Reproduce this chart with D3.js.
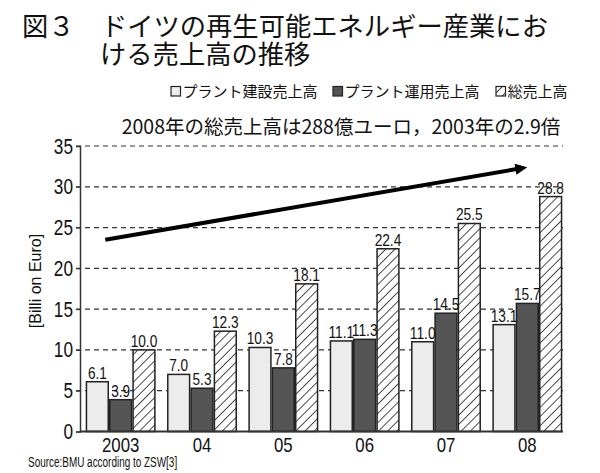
<!DOCTYPE html>
<html><head><meta charset="utf-8">
<script src="https://cdn.jsdelivr.net/npm/d3@7"></script>
<style>
body{margin:0;background:#fff;}
svg{display:block;}
.jp{font-family:"Noto Sans CJK JP","Noto Sans",sans-serif;}
.nar{font-family:"Liberation Sans",Arial,sans-serif;}
</style>
</head><body>
<script>
const categories = ["2003","04","05","06","07","08"];
const construction = [6.1, 7.0, 10.3, 11.1, 11.0, 13.1];
const operation = [3.9, 5.3, 7.8, 11.3, 14.5, 15.7];
const total = [10.0, 12.3, 18.1, 22.4, 25.5, 28.8];
const yTicks = [0,5,10,15,20,25,30,35];
const seriesNames = ["プラント建設売上高","プラント運用売上高","総売上高"];
const arrowFrom = {cat:0, frac:0.28, v:23.5};
const arrowTo = {cat:5, frac:0.5, v:32.4};

(function(){
const W=600,H=473;
const svg=d3.select("body").append("svg").attr("width",W).attr("height",H);
const defs=svg.append("defs");
const pat=defs.append("pattern").attr("id","hatch").attr("patternUnits","userSpaceOnUse")
  .attr("width",6.5).attr("height",6.5).attr("patternTransform","rotate(45)");
pat.append("rect").attr("width",6.5).attr("height",6.5).attr("fill","#fff");
pat.append("line").attr("x1",0).attr("y1",0).attr("x2",0).attr("y2",6.5).attr("stroke","#111").attr("stroke-width",1.5);

// condensed text helper (squeezes glyphs via textLength)
function ntext(parent, x, y, txt, size, sx, anchor, ls){
  const t=parent.append("text").attr("class","nar")
    .attr("x",x).attr("y",y)
    .attr("font-size",size).attr("fill","#111").attr("text-anchor",anchor||"start").text(txt);
  const n=t.node().getComputedTextLength();
  const extra=(ls||0)*(txt.length-1);
  t.attr("textLength",n*sx+extra).attr("lengthAdjust","spacingAndGlyphs");
  return t;
}

const pL=80,pR=563,pT=146,pB=431.5;
const x0=d3.scaleBand().domain(categories).range([pL,568]).paddingInner(0.14).paddingOuter(0.07);
const x1=d3.scaleBand().domain([0,1,2]).range([0,x0.bandwidth()]);
const y=d3.scaleLinear().domain([0,35]).range([pB,pT]);

// grid
svg.append("g").selectAll("line").data(yTicks.filter(d=>d>0)).join("line")
  .attr("x1",pL-4).attr("x2",pR).attr("y1",d=>y(d)).attr("y2",d=>y(d))
  .attr("stroke","#333").attr("stroke-width",1.2).attr("stroke-dasharray","5,4");

// y axis
const yAxis=svg.append("g").attr("transform",`translate(${pL},0)`)
  .call(d3.axisLeft(y).tickValues(yTicks).tickSize(4).tickFormat(""));
yAxis.select(".domain").attr("stroke","#333").attr("stroke-width",1.5);
yAxis.selectAll(".tick line").attr("stroke","#333");
const yl=svg.append("g");
yTicks.forEach(v=>ntext(yl, 73, y(v)+7.5, String(v), 21.5, 0.8, "end"));

// bars
const colors=["#ececec","#555555","url(#hatch)"];
const series=[construction,operation,total];
const g=svg.append("g");
const lg=svg.append("g");
series.forEach((vals,si)=>{
  g.selectAll(".b"+si).data(vals).join("rect").attr("class","b"+si)
    .attr("x",(d,i)=>x0(categories[i])+x1(si)+0.75)
    .attr("width",x1.bandwidth()-1.5)
    .attr("y",d=>y(d)).attr("height",d=>y(0)-y(d))
    .attr("fill",colors[si]).attr("stroke","#222").attr("stroke-width",1.5);
  vals.forEach((d,i)=>{
    ntext(lg, x0(categories[i])+x1(si)+x1.bandwidth()/2, y(d)-3, d.toFixed(1), 16.5, 0.7, "middle", 1.4);
  });
});

// x axis
svg.append("line").attr("x1",pL).attr("x2",pR).attr("y1",pB).attr("y2",pB)
  .attr("stroke","#333").attr("stroke-width",2);
const xl=svg.append("g");
categories.forEach(c=>ntext(xl, x0(c)+x0.bandwidth()/2, 452, c, 21, 0.8, "middle"));

// arrow
const ax1=x0(categories[arrowFrom.cat])+x0.bandwidth()*arrowFrom.frac, ay1=y(arrowFrom.v);
const ax2=x0(categories[arrowTo.cat])+x0.bandwidth()*arrowTo.frac, ay2=y(arrowTo.v);
const ang=Math.atan2(ay2-ay1,ax2-ax1);
svg.append("line").attr("x1",ax1).attr("y1",ay1)
  .attr("x2",ax2-8*Math.cos(ang)).attr("y2",ay2-8*Math.sin(ang))
  .attr("stroke","#000").attr("stroke-width",4);
const hl=12,hw=5.5;
const pts=[[ax2,ay2],
 [ax2-hl*Math.cos(ang)+hw*Math.sin(ang), ay2-hl*Math.sin(ang)-hw*Math.cos(ang)],
 [ax2-hl*Math.cos(ang)-hw*Math.sin(ang), ay2-hl*Math.sin(ang)+hw*Math.cos(ang)]];
svg.append("polygon").attr("points",pts.map(p=>p.join(",")).join(" ")).attr("fill","#000");

// y label
svg.append("text").attr("class","nar").attr("transform","translate(41,281) rotate(-90)")
  .attr("text-anchor","middle").attr("font-size",16).attr("fill","#111").text("[Billi on Euro]");

// title
const t=svg.append("text").attr("class","jp").attr("font-size",26.3).attr("fill","#111");
t.append("tspan").attr("x",22).attr("y",36).text("図３　ドイツの再生可能エネルギー産業にお");
t.append("tspan").attr("x",100).attr("y",64).text("ける売上高の推移");

// legend
const legX=[171,333,496];
legX.forEach((lx,i)=>{
  svg.append("rect").attr("x",lx).attr("y",86.5).attr("width",9.5).attr("height",9.5)
    .attr("fill",colors[i]).attr("stroke","#222").attr("stroke-width",1.2);
  svg.append("text").attr("class","jp").attr("x",lx+11.5).attr("y",97)
    .attr("font-size",15).attr("fill","#111").text(seriesNames[i]);
});

// subtitle
svg.append("text").attr("class","jp").attr("x",341).attr("y",134).attr("text-anchor","middle")
  .attr("font-size",19.5).attr("fill","#111").text("2008年の総売上高は288億ユーロ，2003年の2.9倍");

// source
ntext(svg, 28, 467, "Source:BMU according to ZSW[3]", 14, 0.71, "start");
})();
</script>
</body></html>
